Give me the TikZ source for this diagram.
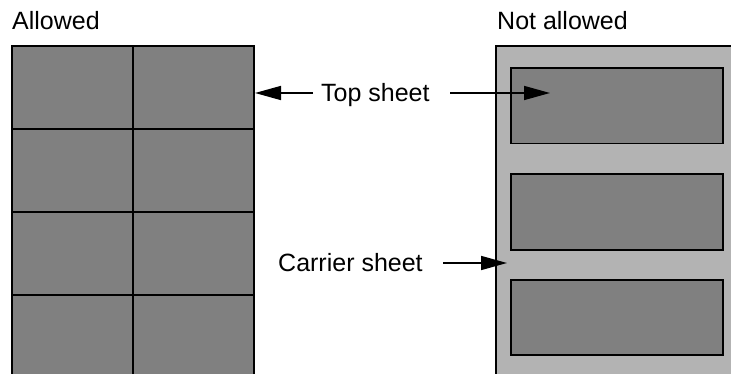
\documentclass[tikz,border=0pt]{standalone}
\usepackage{fontspec}
\setmainfont{Liberation Sans}
\usetikzlibrary{arrows.meta}
\definecolor{darkcell}{HTML}{808080}
\definecolor{carrier}{HTML}{B3B3B3}
\tikzset{
  lbl/.style={font=\fontsize{25}{29}\selectfont, inner sep=0pt, anchor=base west},
  edge/.style={line width=1.6pt},
  pointer/.style={line width=1.6pt, -{Triangle[length=26pt,width=14pt]}},
}
\begin{document}
\begin{tikzpicture}[x=1pt,y=-1pt]
\useasboundingbox (0,0) rectangle (731,374);
\begin{scope}
\clip (0,0) rectangle (731,374);
% left panel
\fill[darkcell] (12,46) rectangle (254,390);
\draw[edge] (12,390) -- (12,46) -- (254,46) -- (254,390);
\draw[edge] (133,46) -- (133,390);
\draw[edge] (12,129) -- (254,129);
\draw[edge] (12,212) -- (254,212);
\draw[edge] (12,295) -- (254,295);
% right panel
\fill[carrier] (496,46) rectangle (740,390);
\draw[edge] (496,390) -- (496,46) -- (740,46);
\draw[edge, fill=darkcell] (511,68) rectangle (723,143.5);
\draw[edge, fill=darkcell] (511,174) rectangle (723,250);
\draw[edge, fill=darkcell] (511,280) rectangle (723,355);
\end{scope}
% titles
\node[lbl] (allowed) at (12,30) {Allowed};
\node[lbl] (notallowed) at (497,30) {Not allowed};
% labels and arrows
\node[lbl] (top) at (321,102) {Top sheet};
\node[lbl] (carrierlbl) at (278,271) {Carrier sheet};
\coordinate (topL) at (255,93);
\coordinate (topR) at (550,93);
\coordinate (carR) at (507,263);
\draw[pointer] (313,93) -- (topL);
\draw[pointer] (450,93) -- (topR);
\draw[pointer] (443,263) -- (carR);
\end{tikzpicture}
\end{document}
